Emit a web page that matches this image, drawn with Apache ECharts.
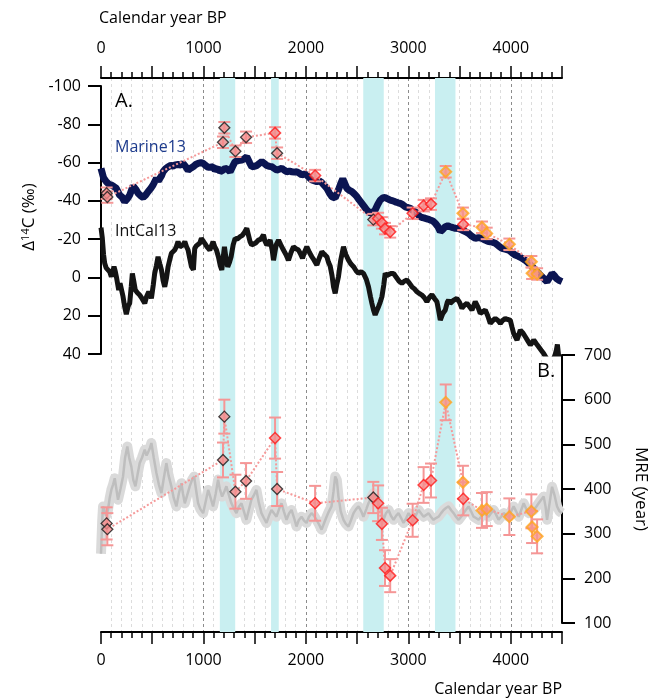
<!DOCTYPE html>
<html><head><meta charset="utf-8">
<script src="https://cdn.jsdelivr.net/npm/echarts@6/dist/echarts.min.js"></script>
<style>html,body{margin:0;padding:0;background:#fff}#c{width:649px;height:698px}</style>
</head><body><div id="c"></div>
<script>
// ---------- DATA ----------
const bandStart = [1160, 1660, 2560, 3260];
const bandEnd   = [1310, 1735, 2760, 3460];

const marineYears = [0,25,52,80,101,125,150,182,205,231,255,280,313,340,362,390,411,435,459,485,508,541,560,573,590,606,630,655,680,703,725,752,780,801,825,850,875,899,925,948,975,997,1020,1046,1070,1094,1114,1143,1163,1190,1211,1235,1260,1285,1309,1340,1374,1400,1423,1450,1472,1500,1521,1545,1570,1595,1618,1645,1667,1690,1716,1740,1765,1790,1814,1840,1862,1890,1911,1935,1960,1985,2009,2035,2058,2080,2107,2130,2156,2180,2205,2230,2254,2270,2286,2318,2340,2360,2380,2400,2425,2449,2475,2498,2520,2546,2570,2595,2611,2628,2650,2676,2700,2725,2750,2774,2800,2823,2850,2872,2900,2921,2945,2970,2995,3019,3045,3067,3090,3116,3140,3165,3190,3214,3240,3263,3290,3312,3335,3361,3385,3409,3435,3458,3490,3523,3555,3588,3620,3653,3685,3718,3750,3783,3815,3849,3880,3914,3945,3979,4010,4044,4075,4110,4140,4175,4205,4240,4270,4305,4330,4354,4380,4403,4425,4445,4470,4500];
const marineD14C = [-57,-52,-50,-48.5,-48.3,-47.5,-46.5,-43,-42,-39.5,-41,-43,-47.8,-46,-44,-42.5,-41.8,-43,-44.8,-46.5,-48.3,-51.8,-50.5,-50,-53,-55.2,-56.8,-57.8,-58.5,-58.2,-58.8,-59,-58.7,-59.6,-58,-56,-57,-57.8,-59,-59.6,-60,-59.6,-58.5,-57.5,-57.5,-57.8,-56.1,-57,-55.2,-56,-57,-56.5,-55.2,-58,-60.5,-61,-61.3,-62,-63,-60,-57.8,-58,-58.5,-59.5,-60.5,-59.5,-58.5,-58,-57.8,-57,-56.1,-56.5,-57,-56,-55.2,-55.5,-55.2,-55,-55.2,-54.5,-53.5,-54,-53.5,-52,-50.9,-50.5,-50,-50.5,-49.5,-48,-46.5,-44,-42.2,-41.3,-41.5,-45.7,-49,-51.5,-49,-46.5,-45.5,-44.8,-43.5,-42.2,-40.5,-38.7,-37,-35.2,-34.3,-33.5,-34,-35.2,-38,-40.4,-41.5,-41.8,-41,-40.4,-40,-39.5,-39,-38.7,-38,-36.9,-36.5,-36.1,-35,-34.3,-33,-31.7,-31.2,-30.9,-30.5,-30,-29.5,-28.3,-26.5,-23.9,-25,-26.5,-27,-26.5,-26,-25.7,-25.5,-24.8,-24,-23,-21.5,-20.4,-20.8,-20.4,-19.5,-18.7,-18.5,-17.8,-16.5,-15.2,-14.8,-14.3,-13,-11.7,-11,-10,-9,-7.4,-5.8,-3.9,-2.2,-0.4,1,2.2,0,-2.1,-1,0.5,1.5,2.2];

const intcalYears = [0,12,25,36,50,68,85,101,115,127,140,150,173,186,199,215,230,247,265,280,295,306,320,335,355,378,400,427,445,466,480,492,510,524,540,557,575,590,606,622,640,655,670,687,703,720,735,752,770,785,800,818,835,850,866,883,902,915,930,948,965,980,997,1013,1035,1062,1078,1094,1110,1127,1146,1165,1179,1192,1205,1220,1237,1255,1270,1290,1309,1330,1358,1380,1400,1423,1440,1455,1470,1488,1510,1537,1560,1586,1600,1618,1635,1651,1672,1684,1693,1710,1733,1755,1781,1805,1830,1855,1879,1903,1928,1950,1967,1985,2009,2035,2058,2080,2107,2130,2156,2180,2205,2220,2237,2255,2270,2286,2300,2318,2340,2367,2390,2416,2440,2465,2490,2514,2540,2562,2590,2611,2630,2644,2660,2676,2695,2709,2725,2742,2760,2774,2790,2807,2830,2856,2870,2888,2910,2937,2960,2986,3010,3035,3060,3084,3110,3132,3155,3181,3205,3230,3255,3279,3295,3312,3335,3361,3380,3393,3409,3440,3474,3500,3523,3548,3572,3600,3621,3640,3653,3680,3702,3725,3751,3775,3800,3825,3849,3875,3898,3920,3946,3970,3995,4012,4028,4045,4061,4078,4093,4118,4142,4165,4191,4210,4224,4248,4272,4297,4321,4345,4380,4410,4430,4445,4455,4465,4480,4500];
const intcalD14C = [-26,-21,-12,-7.4,-5,-5.6,-3,-0.4,-3,-5.6,-3,-0.4,6.6,3,4,10,15,19.2,15,13.5,5,-2.1,2,6.6,8,9.2,11,13.5,10,7.5,9,10.9,4,-2.1,-6,-10.8,-7,-3.9,1.5,4.9,0,-5.6,-9,-12.6,-13,-14.3,-16,-18.7,-16,-15.2,-17,-18.7,-16,-14.3,-10,-5.6,-4,-15.2,-16.5,-16,-18,-20.4,-19,-17.8,-16,-14.3,-16.5,-18.7,-16,-14.3,-10.8,-6,-3.9,-10,-16,-10,-5.6,-8,-10.8,-17,-20.4,-20,-21.3,-22,-23.5,-25.7,-22,-18.7,-17,-16,-18,-19.5,-20,-22.2,-19,-16.9,-18,-19.5,-14,-9,-10,-17,-19.5,-17,-14.3,-12,-9,-13,-16,-15,-14.3,-12,-10,-13,-16,-13,-10.8,-9,-6.5,-10,-13.4,-12,-10.8,-8,-6,-1,4.9,8.3,4,-0.4,-9,-16,-12,-9,-7,-5.6,-3.5,-2.1,-3,-2.1,1,4.9,10,13.5,17,19.6,17,15.3,13,10.1,4,-2.1,-1,-0.4,-2,-2.1,-1,-0.4,2,3.1,2,1.4,3,4.9,6,7.5,8.5,9.2,10.5,12.7,10.5,9,11,12.7,17,22.3,19,17,13,11.8,13.5,12,10.9,13,16.1,14.5,13.5,15.5,17,14.5,12.7,15.5,18.8,18,17,20,24,22.5,21.4,22.5,24,22.5,21.4,22,22.3,26,29.2,31,32.7,30,27.5,29,31,33,35.3,34,32.7,34.5,36.2,38,39.7,42,44,43,41,38,35,40,44,46];

const mreModelYears = [0,12,20,36,50,68,85,101,118,134,150,166,190,215,235,257,275,296,316,336,355,378,400,427,445,459,475,492,515,541,565,590,610,638,660,687,710,736,760,785,800,818,840,866,888,909,930,948,970,997,1020,1046,1070,1094,1120,1143,1160,1182,1205,1224,1250,1273,1300,1322,1345,1371,1395,1419,1445,1468,1490,1517,1540,1566,1590,1615,1640,1664,1690,1713,1738,1762,1785,1811,1835,1860,1885,1908,1930,1957,1980,2006,2030,2055,2080,2104,2130,2153,2180,2202,2225,2250,2270,2286,2302,2318,2340,2367,2390,2416,2440,2465,2490,2514,2540,2562,2590,2611,2635,2660,2685,2709,2735,2758,2780,2807,2830,2856,2880,2904,2930,2953,2980,3002,3025,3051,3075,3100,3125,3149,3175,3197,3220,3246,3270,3295,3320,3344,3370,3393,3420,3442,3465,3491,3515,3540,3565,3588,3612,3637,3660,3686,3710,3735,3760,3784,3808,3833,3858,3881,3905,3930,3955,3979,4003,4028,4052,4077,4100,4126,4150,4175,4200,4224,4248,4272,4297,4321,4340,4354,4380,4403,4428,4452,4475,4500];
const mreModelValues = [255,330,361,361,340,353,380,398,410,424,400,376,400,428,470,495,470,450,420,406,430,458,470,488,475,473,490,503,470,436,410,391,420,458,430,406,380,361,390,413,390,368,385,406,420,428,395,368,355,346,370,398,380,361,390,421,400,383,395,406,385,368,355,346,360,368,350,331,355,376,385,398,370,346,335,324,340,353,345,338,355,368,350,331,345,353,335,316,330,338,330,324,338,346,340,331,320,309,325,338,350,361,395,428,420,383,350,331,322,316,330,346,355,361,350,338,355,368,380,391,380,368,350,331,345,353,340,331,340,346,335,324,335,346,338,331,342,353,345,338,342,346,338,331,335,338,346,353,358,361,352,346,338,331,338,346,354,361,350,338,335,331,338,346,342,338,346,353,342,331,338,346,342,338,350,361,350,338,352,368,356,346,350,353,360,368,376,383,360,331,370,405,385,361,350,346];

// samples (sorted by calendar age)
const sampleYears   = [55,62,1191,1204,1312,1416,1699,1719,2090,2658,2705,2742,2772,2823,3042,3149,3221,3365,3533,3536,3719,3765,3986,4201,4208,4257];
const sampleD14C    = [-44,-42,-70.6,-78.2,-65.9,-73.2,-75.5,-64.9,-53.2,-30.2,-30.8,-28.5,-25.5,-23.8,-33.5,-37.5,-38.3,-55.2,-33.5,-27.7,-26.2,-23.0,-17.3,-8.2,-2.2,-1.8];
const sampleD14CErr = [3,3,3,3,3,3,3,3,3,3,3,3,3,3,3,3,3,3,3,3,3,3,3,3,3,3];
const sampleMRE     = [323,310,465,562,394,418,514,400,368,381,368,322,223,206,330,409,419,594,415,378,352,355,338,350,315,294];
const sampleMREErr  = [36,36,39,38,38,40,46,38,39,35,40,36,40,37,37,40,38,40,37,37,39,38,41,38,36,38];
const sampleType    = ['k','k','k','k','k','k','r','k','r','k','r','r','r','r','r','r','r','o','o','r','o','o','o','o','o','o'];

// ---------- STYLE ----------
const FONT = '"Open Sans", "Noto Sans", sans-serif';
const typeStyle = {
  k: {color:'#f48c8c', borderColor:'#1a1a1a', borderWidth:1.3},
  r: {color:'#f48c8c', borderColor:'#ff1a1a', borderWidth:1.5},
  o: {color:'#f6958a', borderColor:'#ffa51e', borderWidth:2}
};
const zip = (a,b) => a.map((v,i)=>[v,b[i]]);

function errRender(params, api){
  const x = api.value(0);
  const p1 = api.coord([x, api.value(1)]);
  const p2 = api.coord([x, api.value(2)]);
  const w = 6;
  const st = {stroke:'#f59696', lineWidth:2};
  return {type:'group', children:[
    {type:'line', shape:{x1:p1[0],y1:p1[1],x2:p2[0],y2:p2[1]}, style:st},
    {type:'line', shape:{x1:p1[0]-w,y1:p1[1],x2:p1[0]+w,y2:p1[1]}, style:st},
    {type:'line', shape:{x1:p2[0]-w,y1:p2[1],x2:p2[0]+w,y2:p2[1]}, style:st}
  ]};
}

const lbl = {fontSize:16, color:'#000', fontFamily:FONT};
const topBottomAxis = (pos, margin) => ({
  type:'value', gridIndex:0, position:pos, min:0, max:4500, interval:500,
  axisLine:{show:true, onZero:false, lineStyle:{color:'#000', width:2}},
  axisTick:{show:true, length:12, lineStyle:{color:'#000', width:1.5}},
  minorTick:{show:true, splitNumber:5, length:6, lineStyle:{color:'#000', width:1.5}},
  axisLabel:Object.assign({margin:margin, formatter:v => (v % 1000 === 0 ? String(v) : '')}, lbl),
  splitLine:{show:false}
});
const hiddenX = (g, extra) => Object.assign({type:'value', gridIndex:g, min:0, max:4500,
  axisLine:{show:false, onZero:false}, axisTick:{show:false}, axisLabel:{show:false}, splitLine:{show:false}}, extra||{});

const option = {
  animation:false,
  backgroundColor:'#fff',
  grid:[
    {left:101, top:78, width:461, height:554},
    {left:101, top:86, width:461, height:268},
    {left:101, top:355, width:461, height:268}
  ],
  xAxis:[
    topBottomAxis('top', 22),
    topBottomAxis('bottom', 20),
    hiddenX(0, {interval:100, splitLine:{show:true, showMinLine:false, showMaxLine:false, lineStyle:{color:'#dcdcdc', width:1, type:[3,3]}}}),
    hiddenX(0, {interval:1000, splitLine:{show:true, showMinLine:false, showMaxLine:false, lineStyle:{color:'#8c8c8c', width:1, type:[3,3]}}}),
    hiddenX(1),
    hiddenX(2)
  ],
  yAxis:[
    {type:'value', gridIndex:0, min:0, max:1, show:false, axisLine:{onZero:false}},
    {type:'value', gridIndex:1, position:'left', inverse:true, min:-100, max:40, interval:20,
     axisLine:{show:true, onZero:false, lineStyle:{color:'#000', width:2}},
     axisTick:{show:true, length:13, lineStyle:{color:'#000', width:2}},
     axisLabel:Object.assign({margin:20}, lbl), splitLine:{show:false}},
    {type:'value', gridIndex:2, position:'right', min:100, max:700, interval:100,
     axisLine:{show:true, onZero:false, lineStyle:{color:'#000', width:2}},
     axisTick:{show:true, length:13, lineStyle:{color:'#000', width:2}},
     axisLabel:Object.assign({margin:22}, lbl), splitLine:{show:false}}
  ],
  series:[
    {type:'line', xAxisIndex:2, yAxisIndex:0, data:[], symbol:'none', z:1,
     markArea:{silent:true, itemStyle:{color:'#c9eff1'},
       data: bandStart.map((s,i)=>[{xAxis:s},{xAxis:bandEnd[i]}])}},
    {type:'line', xAxisIndex:5, yAxisIndex:2, data:zip(mreModelYears, mreModelValues), symbol:'none', z:2,
     lineStyle:{color:'#dadada', width:10, join:'round'}},
    {type:'line', xAxisIndex:5, yAxisIndex:2, data:zip(mreModelYears, mreModelValues), symbol:'none', z:2,
     lineStyle:{color:'#bebebe', width:2.5}},
    {type:'line', xAxisIndex:4, yAxisIndex:1, data:zip(marineYears, marineD14C), symbol:'none', z:2,
     lineStyle:{color:'#0b1552', width:7}},
    {type:'line', xAxisIndex:4, yAxisIndex:1, data:zip(intcalYears, intcalD14C), symbol:'none', z:2,
     lineStyle:{color:'#141414', width:5}},
    {type:'line', xAxisIndex:4, yAxisIndex:1, data:zip(sampleYears, sampleD14C), symbol:'none', z:3,
     lineStyle:{color:'#f59a9a', width:2, type:'dotted'}},
    {type:'line', xAxisIndex:5, yAxisIndex:2, data:zip(sampleYears, sampleMRE), symbol:'none', z:3,
     lineStyle:{color:'#f59a9a', width:2, type:'dotted'}},
    {type:'custom', xAxisIndex:4, yAxisIndex:1, z:4, renderItem:errRender, encode:{x:0, y:[1,2]},
     data: sampleYears.map((y,i)=>[y, sampleD14C[i]-sampleD14CErr[i], sampleD14C[i]+sampleD14CErr[i]])},
    {type:'custom', xAxisIndex:5, yAxisIndex:2, z:4, renderItem:errRender, encode:{x:0, y:[1,2]},
     data: sampleYears.map((y,i)=>[y, sampleMRE[i]-sampleMREErr[i], sampleMRE[i]+sampleMREErr[i]])},
    {type:'scatter', xAxisIndex:4, yAxisIndex:1, symbol:'diamond', symbolSize:11, z:5,
     data: sampleYears.map((y,i)=>({value:[y, sampleD14C[i]], itemStyle:typeStyle[sampleType[i]]}))},
    {type:'scatter', xAxisIndex:5, yAxisIndex:2, symbol:'diamond', symbolSize:11, z:5,
     data: sampleYears.map((y,i)=>({value:[y, sampleMRE[i]], itemStyle:typeStyle[sampleType[i]]}))}
  ],
  graphic:[
    {type:'text', x:99, y:18, style:{text:'Calendar year BP', font:'16px '+FONT, fill:'#000', align:'left', verticalAlign:'middle'}},
    {type:'text', x:562, y:689, style:{text:'Calendar year BP', font:'16px '+FONT, fill:'#000', align:'right', verticalAlign:'middle'}},
    {type:'text', x:115, y:101, style:{text:'A.', font:'20px '+FONT, fill:'#000', align:'left', verticalAlign:'middle'}},
    {type:'text', x:537, y:371, style:{text:'B.', font:'20px '+FONT, fill:'#000', align:'left', verticalAlign:'middle'}},
    {type:'text', x:115, y:147.5, z:10, style:{text:'Marine13', font:'16px '+FONT, fill:'#1c3a8c', align:'left', verticalAlign:'middle'}},
    {type:'text', x:115, y:231, z:10, style:{text:'IntCal13', font:'16px '+FONT, fill:'#111', align:'left', verticalAlign:'middle'}},
    {type:'text', x:29, y:217, rotation:Math.PI/2,
     style:{text:'{a|Δ}{s|14}{a|C (‰)}', align:'center', verticalAlign:'middle', fill:'#000',
       rich:{a:{fontSize:17, fontFamily:FONT, fill:'#000'}, s:{fontSize:11, fontFamily:FONT, fill:'#000', verticalAlign:'top'}}}},
    {type:'text', x:641, y:489, rotation:-Math.PI/2,
     style:{text:'MRE (year)', font:'17px '+FONT, fill:'#000', align:'center', verticalAlign:'middle'}}
  ]
};
const chart = echarts.init(document.getElementById('c'), null, {renderer:'canvas'});
chart.setOption(option);
</script></body></html>
